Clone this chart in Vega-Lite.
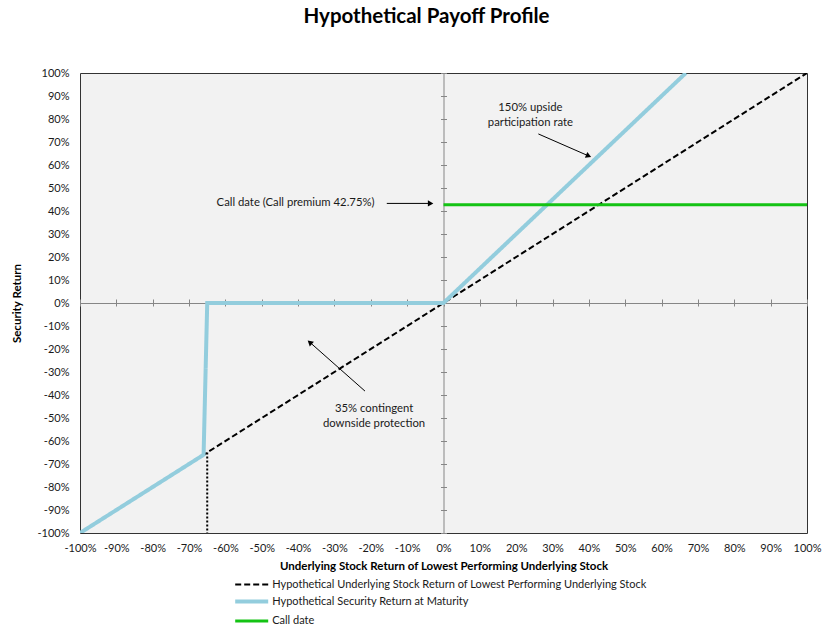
{
  "$schema": "https://vega.github.io/schema/vega-lite/v6.json",
  "width": 727,
  "height": 460,
  "autosize": {"type": "none"},
  "padding": {"left": 80, "top": 73, "right": 17, "bottom": 95},
  "background": "white",
  "title": {
    "text": "Hypothetical Payoff Profile",
    "font": "Lato",
    "fontSize": 20.5,
    "fontWeight": "bold",
    "color": "#000000",
    "anchor": "middle",
    "frame": "group",
    "dx": -17,
    "offset": 40
  },
  "config": {
    "view": {"fill": "#f2f2f2", "stroke": "#333333", "strokeWidth": 1},
    "font": "Lato",
    "legend": {
      "orient": "none",
      "legendX": 159.7,
      "legendY": 500.5,
      "direction": "vertical",
      "title": null,
      "padding": 0,
      "labelFont": "Lato",
      "labelFontSize": 11,
      "labelColor": "#1a1a1a",
      "labelOffset": 8.5,
      "labelLimit": 0,
      "symbolType": "M-1.65,0H1.65",
      "symbolSize": 400,
      "rowPadding": -4.5
    }
  },
  "resolve": {"axis": {"x": "independent", "y": "independent"}},
  "layer": [
    {
      "data": {
        "values": [
          {"series": "Hypothetical Underlying Stock Return of Lowest Performing Underlying Stock", "i": 0, "x": -100, "y": -100},
          {"series": "Hypothetical Underlying Stock Return of Lowest Performing Underlying Stock", "i": 1, "x": 100, "y": 100},
          {"series": "Hypothetical Security Return at Maturity", "i": 0, "x": -100, "y": -100},
          {"series": "Hypothetical Security Return at Maturity", "i": 1, "x": -66, "y": -66},
          {"series": "Hypothetical Security Return at Maturity", "i": 2, "x": -65, "y": 0},
          {"series": "Hypothetical Security Return at Maturity", "i": 3, "x": 0, "y": 0},
          {"series": "Hypothetical Security Return at Maturity", "i": 4, "x": 66.67, "y": 100},
          {"series": "Call date", "i": 0, "x": 0, "y": 42.75},
          {"series": "Call date", "i": 1, "x": 100, "y": 42.75}
        ]
      },
      "mark": {"type": "line", "clip": true},
      "encoding": {
        "x": {
          "field": "x",
          "type": "quantitative",
          "scale": {"domain": [-100, 100], "nice": false, "zero": false},
          "axis": {
            "orient": "bottom",
            "values": [-100, -90, -80, -70, -60, -50, -40, -30, -20, -10, 0, 10, 20, 30, 40, 50, 60, 70, 80, 90, 100],
            "labelExpr": "datum.value + '%'",
            "labelOverlap": false,
            "labelFlush": false,
            "domain": false,
            "ticks": false,
            "tickSize": 0,
            "grid": false,
            "labelPadding": 9,
            "labelFont": "Lato",
            "labelFontSize": 11,
            "labelColor": "#1a1a1a",
            "title": "Underlying Stock Return of Lowest Performing Underlying Stock",
            "titleFont": "Lato",
            "titleFontSize": 11.5,
            "titleFontWeight": "bold",
            "titleColor": "#000000",
            "titlePadding": 7
          }
        },
        "y": {
          "field": "y",
          "type": "quantitative",
          "scale": {"domain": [-100, 100], "nice": false, "zero": false},
          "axis": {
            "orient": "left",
            "values": [-100, -90, -80, -70, -60, -50, -40, -30, -20, -10, 0, 10, 20, 30, 40, 50, 60, 70, 80, 90, 100],
            "labelExpr": "datum.value + '%'",
            "labelOverlap": false,
            "labelFlush": false,
            "domain": false,
            "ticks": false,
            "tickSize": 0,
            "grid": false,
            "labelPadding": 11,
            "labelFont": "Lato",
            "labelFontSize": 11,
            "labelColor": "#1a1a1a",
            "title": "Security Return",
            "titleFont": "Lato",
            "titleFontSize": 11.5,
            "titleFontWeight": "bold",
            "titleColor": "#000000",
            "titlePadding": 14
          }
        },
        "order": {"field": "i", "type": "quantitative"},
        "color": {
          "field": "series",
          "type": "nominal",
          "scale": {
            "domain": ["Hypothetical Underlying Stock Return of Lowest Performing Underlying Stock", "Hypothetical Security Return at Maturity", "Call date"],
            "range": ["#000000", "#93CDDD", "#14C314"]
          }
        },
        "strokeDash": {
          "field": "series",
          "type": "nominal",
          "scale": {
            "domain": ["Hypothetical Underlying Stock Return of Lowest Performing Underlying Stock", "Hypothetical Security Return at Maturity", "Call date"],
            "range": [[6, 3], [1, 0], [1, 0]]
          }
        },
        "strokeWidth": {
          "field": "series",
          "type": "nominal",
          "scale": {
            "type": "ordinal",
            "domain": ["Hypothetical Underlying Stock Return of Lowest Performing Underlying Stock", "Hypothetical Security Return at Maturity", "Call date"],
            "range": [2, 4, 3]
          }
        }
      }
    },
    {
      "data": {"values": [{"x": -65, "y": -65}, {"x": -65, "y": -100}]},
      "mark": {"type": "line", "color": "#000000", "strokeWidth": 2, "strokeDash": [2, 2]},
      "encoding": {
        "x": {
          "field": "x",
          "type": "quantitative",
          "axis": {
            "orient": "top",
            "offset": -230,
            "values": [-100, -90, -80, -70, -60, -50, -40, -30, -20, -10, 0, 10, 20, 30, 40, 50, 60, 70, 80, 90, 100],
            "labels": false,
            "title": null,
            "grid": false,
            "domain": true,
            "domainColor": "#868686",
            "ticks": true,
            "tickColor": "#868686",
            "tickSize": 4,
            "encoding": {"ticks": {"y": {"value": 3}, "y2": {"value": -4}}}
          }
        },
        "y": {
          "field": "y",
          "type": "quantitative",
          "axis": {
            "orient": "right",
            "offset": -363.5,
            "values": [-100, -90, -80, -70, -60, -50, -40, -30, -20, -10, 0, 10, 20, 30, 40, 50, 60, 70, 80, 90, 100],
            "labels": false,
            "title": null,
            "grid": false,
            "domain": true,
            "domainColor": "#868686",
            "ticks": true,
            "tickColor": "#868686",
            "tickSize": 4,
            "encoding": {"ticks": {"x": {"value": -3}, "x2": {"value": 3}}}
          }
        }
      }
    },
    {
      "data": {
        "values": [
          {"x": 26.1, "y": 73.5, "x2": 39.7, "y2": 64.1},
          {"x": -15.6, "y": 43.3, "x2": -4.0, "y2": 43.3},
          {"x": -21.6, "y": -38.3, "x2": -36.4, "y2": -17.6}
        ]
      },
      "mark": {"type": "rule", "color": "#000000", "strokeWidth": 1},
      "encoding": {
        "x": {"field": "x", "type": "quantitative", "axis": null},
        "y": {"field": "y", "type": "quantitative", "axis": null},
        "x2": {"field": "x2"},
        "y2": {"field": "y2"}
      }
    },
    {
      "data": {"values": [{"x": 39.7, "y": 64.1}]},
      "mark": {"type": "point", "shape": "triangle", "filled": true, "color": "#000000", "opacity": 1, "size": 40, "angle": 113},
      "encoding": {
        "x": {"field": "x", "type": "quantitative", "axis": null},
        "y": {"field": "y", "type": "quantitative", "axis": null}
      }
    },
    {
      "data": {"values": [{"x": -3.8, "y": 43.3}]},
      "mark": {"type": "point", "shape": "triangle", "filled": true, "color": "#000000", "opacity": 1, "size": 40, "angle": 90},
      "encoding": {
        "x": {"field": "x", "type": "quantitative", "axis": null},
        "y": {"field": "y", "type": "quantitative", "axis": null}
      }
    },
    {
      "data": {"values": [{"x": -36.6, "y": -17.4}]},
      "mark": {"type": "point", "shape": "triangle", "filled": true, "color": "#000000", "opacity": 1, "size": 40, "angle": 311},
      "encoding": {
        "x": {"field": "x", "type": "quantitative", "axis": null},
        "y": {"field": "y", "type": "quantitative", "axis": null}
      }
    },
    {
      "data": {
        "values": [
          {"x": 23.9, "y": 85, "label": "150% upside\nparticipation rate"},
          {"x": -40.7, "y": 43.3, "label": "Call date (Call premium 42.75%)"},
          {"x": -19.1, "y": -46, "label": "35% contingent\ndownside protection"}
        ]
      },
      "mark": {"type": "text", "font": "Lato", "fontSize": 11.3, "color": "#1a1a1a", "align": "center", "baseline": "middle", "lineBreak": "\n", "lineHeight": 15.5},
      "encoding": {
        "x": {"field": "x", "type": "quantitative", "axis": null},
        "y": {"field": "y", "type": "quantitative", "axis": null},
        "text": {"field": "label"}
      }
    }
  ]
}
